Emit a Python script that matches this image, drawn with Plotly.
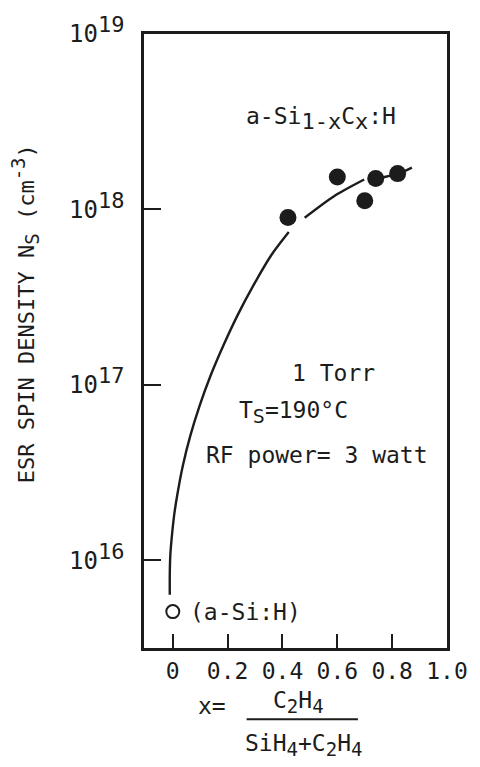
import math
import plotly.graph_objects as go

# ---- data -------------------------------------------------------------
# a-Si(1-x)C(x):H films, ESR spin density vs ethylene gas fraction x
x_alloy = [0.42, 0.60, 0.70, 0.74, 0.82]
ns_alloy = [9.0e17, 1.53e18, 1.12e18, 1.50e18, 1.60e18]

# reference a-Si:H film (x = 0)
x_asi = [0.0]
ns_asi = [5.1e15]

# hand-drawn guide curve (broken where it meets the markers)
curve_x = [-0.011, -0.011, -0.009, -0.003, 0.005, 0.016, 0.037, 0.064, 0.098,
           0.138, 0.184, 0.236, 0.294, 0.359, 0.423, None,
           0.481, 0.588, 0.698, None,
           0.744, 0.824, 0.872]
curve_ns = [6.37e15, 8.26e15, 1.07e16, 1.39e16, 1.81e16, 2.34e16, 3.48e16,
            5.14e16, 7.62e16, 1.13e17, 1.67e17, 2.49e17, 3.69e17, 5.48e17,
            7.43e17, None,
            8.97e17, 1.19e18, 1.48e18, None,
            1.50e18, 1.60e18, 1.73e18]

x_tickvals = [0, 0.2, 0.4, 0.6, 0.8, 1.0]
x_ticktext = ["0", "0.2", "0.4", "0.6", "0.8", "1.0"]
y_tickvals = [1e16, 1e17, 1e18, 1e19]
y_exponents = ["16", "17", "18", "19"]

# ---- styling ------------------------------------------------------------
W, H = 480, 767
L, R, T, B = 144, 457, 28, 648          # plot-area edges in pixels
INK = "#1c1c1c"
FONT = "DejaVu Sans Mono"


def px(x):
    return (x - L) / (R - L)


def py(y):
    return (B - y) / (B - T)


def small(s, size):
    return f'<span style="font-size:{size}px">{s}</span>'


y_ticktext = [f"10<sup>{small(e, 22)}</sup>" for e in y_exponents]

fig = go.Figure()

fig.add_trace(go.Scatter(
    x=curve_x, y=curve_ns, mode="lines",
    line=dict(color=INK, width=2.4, shape="spline", smoothing=0.8),
    connectgaps=False, hoverinfo="skip",
))
fig.add_trace(go.Scatter(
    x=x_alloy, y=ns_alloy, mode="markers",
    marker=dict(symbol="circle", size=17, color=INK, line=dict(width=0)),
))
fig.add_trace(go.Scatter(
    x=x_asi, y=ns_asi, mode="markers",
    marker=dict(symbol="circle-open", size=13, color=INK, line=dict(width=2)),
))

annotations = []


def note(text, x, y, size=23, **kw):
    annotations.append(dict(
        text=text, x=px(x), y=py(y), xref="paper", yref="paper",
        showarrow=False, font=dict(family=FONT, size=size, color=INK),
        xanchor=kw.pop("xanchor", "center"), yanchor=kw.pop("yanchor", "middle"), **kw,
    ))


note(f"a-Si<sub>{small('1-x', 22)}</sub>C<sub>{small('x', 22)}</sub>:H", 327, 113)
note("1 Torr", 340, 370)
note(f"T<sub>{small('S', 20)}</sub>=190°C", 298, 410)
note("RF power= 3 watt", 323, 453)

# label next to the a-Si:H point (log axis: annotation y is log10)
annotations.append(dict(
    text="(a-Si:H)", x=x_asi[0], y=math.log10(ns_asi[0]), xref="x", yref="y",
    xanchor="left", yanchor="middle", xshift=15, showarrow=False,
    font=dict(family=FONT, size=23, color=INK),
))

# y-axis title
note(f"ESR SPIN DENSITY N<sub>{small('S', 19)}</sub> (cm<sup>{small('-3', 19)}</sup>)",
     21, 310, size=22, textangle=-90)

# x-axis title as a fraction
note("x=", 214, 707)
note(f"C<sub>{small('2', 19)}</sub>H<sub>{small('4', 19)}</sub>", 304, 703)
note(f"SiH<sub>{small('4', 19)}</sub>+C<sub>{small('2', 19)}</sub>H<sub>{small('4', 19)}</sub>",
     309, 746)

fig.add_shape(type="line", xref="paper", yref="paper",
              x0=px(250), x1=px(365), y0=py(720), y1=py(720),
              line=dict(color=INK, width=2))

fig.update_layout(
    width=W, height=H, autosize=False,
    margin=dict(l=L, r=W - R, t=T, b=H - B, pad=0),
    paper_bgcolor="white", plot_bgcolor="white",
    showlegend=False,
    font=dict(family=FONT, size=23, color=INK),
    annotations=annotations,
)

fig.update_xaxes(
    range=[-0.105, 1.0], tickvals=x_tickvals, ticktext=x_ticktext,
    ticks="inside", ticklen=14, tickwidth=2.2, tickcolor=INK,
    showline=True, linewidth=2.5, linecolor=INK, mirror=True,
    showgrid=False, zeroline=False, ticklabelstandoff=1,
    tickfont=dict(family=FONT, size=23, color=INK),
)
fig.update_yaxes(
    type="log", range=[15.5, 19.0], tickvals=y_tickvals, ticktext=y_ticktext,
    ticks="inside", ticklen=17, tickwidth=2.2, tickcolor=INK,
    showline=True, linewidth=2.5, linecolor=INK, mirror=True,
    showgrid=False, zeroline=False, ticklabelstandoff=12,
    tickfont=dict(family=FONT, size=24, color=INK),
)

fig.write_html("out.html")
